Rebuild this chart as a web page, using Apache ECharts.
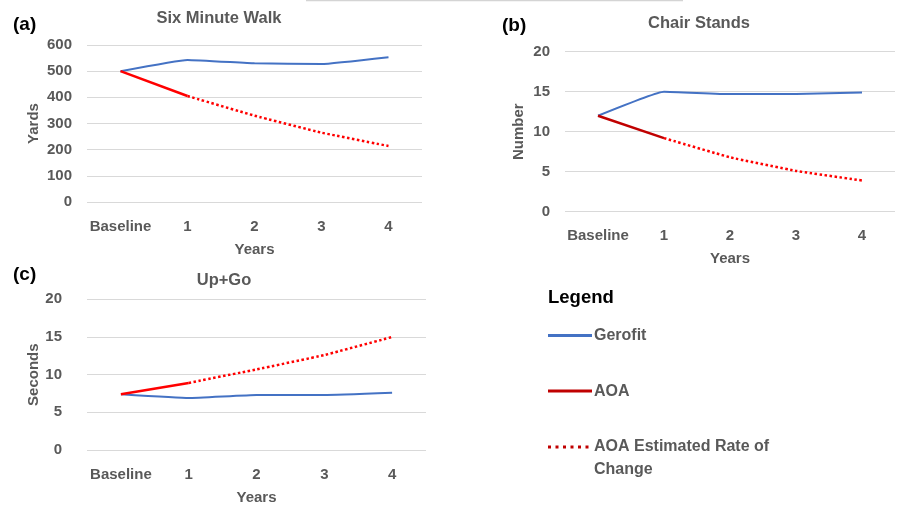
<!DOCTYPE html>
<html>
<head>
<meta charset="utf-8">
<script src="https://cdn.jsdelivr.net/npm/echarts@6/dist/echarts.min.js"></script>
<style>
html,body{margin:0;padding:0;background:#fff;}
#main{width:900px;height:508px;}
</style>
</head>
<body>
<div id="main"></div>
<script>
// ---- data ----
const categories = ['Baseline', '1', '2', '3', '4'];

const walkGerofit = [500, 543, 530, 527, 553];
const walkAOA = [500, 405, null, null, null];
const walkAOAEst = [null, 405, 330, 265, 214];

const chairGerofit = [12, 15.0, 14.7, 14.7, 14.9];
const chairAOA = [12, 9.2, null, null, null];
const chairAOAEst = [null, 9.2, 6.8, 5.1, 3.9];

const upgoGerofit = [7.4, 6.9, 7.3, 7.3, 7.6];
const upgoAOA = [7.4, 8.9, null, null, null];
const upgoAOAEst = [null, 8.9, 10.7, 12.6, 15.0];

const panelTitles = ['Six Minute Walk', 'Chair Stands', 'Up+Go'];
const panelTags = ['(a)', '(b)', '(c)'];
const yNames = ['Yards', 'Number', 'Seconds'];
const xName = 'Years';
const seriesNames = ['Gerofit', 'AOA', 'AOA Estimated Rate of\nChange'];

// ---- styles ----
const BLUE = '#4472C4';
const RED = '#FF0000';
const DARKRED = '#C00000';
const GRAY = '#595959';
const FONT = '"Liberation Sans", Arial, sans-serif';

const chart = echarts.init(document.getElementById('main'));

const grids = [
  {left: 87, top: 45, width: 335, height: 157},
  {left: 565, top: 51.7, width: 330, height: 160},
  {left: 87, top: 299.3, width: 339, height: 150.7}
];
const yMax = [600, 20, 20];
const yInt = [100, 5, 5];
const yLabelMargin = [15, 15, 25];
const yNameGap = [46, 39, 41];

function xAxis(i) {
  return {
    type: 'category', gridIndex: i, data: categories, boundaryGap: true,
    axisLine: {show: false}, axisTick: {show: false},
    axisLabel: {color: GRAY, fontSize: 15, fontWeight: 'bold', fontFamily: FONT, margin: 17, interval: 0},
    name: xName, nameLocation: 'middle', nameGap: 40,
    nameTextStyle: {color: GRAY, fontSize: 15, fontWeight: 'bold', fontFamily: FONT}
  };
}
function yAxis(i) {
  return {
    type: 'value', gridIndex: i, min: 0, max: yMax[i], interval: yInt[i],
    axisLine: {show: false}, axisTick: {show: false},
    splitLine: {lineStyle: {color: '#D9D9D9', width: 1}},
    axisLabel: {color: GRAY, fontSize: 15, fontWeight: 'bold', fontFamily: FONT, margin: yLabelMargin[i]},
    name: yNames[i], nameLocation: 'middle', nameGap: yNameGap[i], nameRotate: 90,
    nameTextStyle: {color: GRAY, fontSize: 15, fontWeight: 'bold', fontFamily: FONT}
  };
}
function line(i, name, data, color, width, dashed) {
  return {
    type: 'line', name: name, xAxisIndex: i, yAxisIndex: i, data: data,
    showSymbol: false, symbol: 'none', smooth: 0.1, connectNulls: false,
    lineStyle: {color: color, width: width, type: dashed ? [2.5, 2.5] : 'solid'},
    itemStyle: {color: color},
    z: dashed ? 2 : 3, silent: true
  };
}

const titleTexts = [
  {text: panelTitles[0], left: 219, top: 10},
  {text: panelTitles[1], left: 699, top: 15},
  {text: panelTitles[2], left: 224, top: 272}
];
const tags = [
  {text: panelTags[0], x: 13, y: 25},
  {text: panelTags[1], x: 502, y: 26},
  {text: panelTags[2], x: 13, y: 275}
];

const option = {
  animation: false,
  backgroundColor: '#fff',
  title: titleTexts.map(t => ({
    text: t.text, left: t.left, top: t.top, textAlign: 'center', padding: 0,
    textStyle: {color: GRAY, fontSize: 16.5, fontWeight: 'bold', fontFamily: FONT}
  })),
  grid: grids,
  xAxis: [xAxis(0), xAxis(1), xAxis(2)],
  yAxis: [yAxis(0), yAxis(1), yAxis(2)],
  series: [
    line(0, seriesNames[0], walkGerofit, BLUE, 2, false),
    line(0, seriesNames[1], walkAOA, RED, 2.5, false),
    line(0, seriesNames[2], walkAOAEst, RED, 2.5, true),
    line(1, seriesNames[0], chairGerofit, BLUE, 2, false),
    line(1, seriesNames[1], chairAOA, DARKRED, 2.5, false),
    line(1, seriesNames[2], chairAOAEst, RED, 2.5, true),
    line(2, seriesNames[0], upgoGerofit, BLUE, 2, false),
    line(2, seriesNames[1], upgoAOA, RED, 2.5, false),
    line(2, seriesNames[2], upgoAOAEst, RED, 2.5, true)
  ],
  graphic: [
    {type: 'line', shape: {x1: 306, y1: 0.5, x2: 683, y2: 0.5}, style: {stroke: '#D4D4D4', lineWidth: 1.5}},
    ...tags.map(t => ({
      type: 'text', x: t.x, y: t.y,
      style: {text: t.text, fill: '#000', font: 'bold 19px ' + FONT, textVerticalAlign: 'middle'}
    })),
    {type: 'text', x: 548, y: 298, style: {text: 'Legend', fill: '#000', font: 'bold 18.5px ' + FONT, textVerticalAlign: 'middle'}},
    {type: 'line', shape: {x1: 548, y1: 335.5, x2: 592, y2: 335.5}, style: {stroke: BLUE, lineWidth: 3}},
    {type: 'text', x: 594, y: 336, style: {text: seriesNames[0], fill: GRAY, font: 'bold 16px ' + FONT, textVerticalAlign: 'middle'}},
    {type: 'line', shape: {x1: 548, y1: 391, x2: 592, y2: 391}, style: {stroke: DARKRED, lineWidth: 3}},
    {type: 'text', x: 594, y: 392, style: {text: seriesNames[1], fill: GRAY, font: 'bold 16px ' + FONT, textVerticalAlign: 'middle'}},
    {type: 'line', shape: {x1: 548, y1: 447, x2: 590, y2: 447}, style: {stroke: DARKRED, lineWidth: 3, lineDash: [3, 4.5]}},
    {type: 'text', x: 594, y: 447, style: {text: 'AOA Estimated Rate of', fill: GRAY, font: 'bold 16px ' + FONT, textVerticalAlign: 'middle'}},
    {type: 'text', x: 594, y: 470, style: {text: 'Change', fill: GRAY, font: 'bold 16px ' + FONT, textVerticalAlign: 'middle'}}
  ]
};
chart.setOption(option);
</script>
</body>
</html>
